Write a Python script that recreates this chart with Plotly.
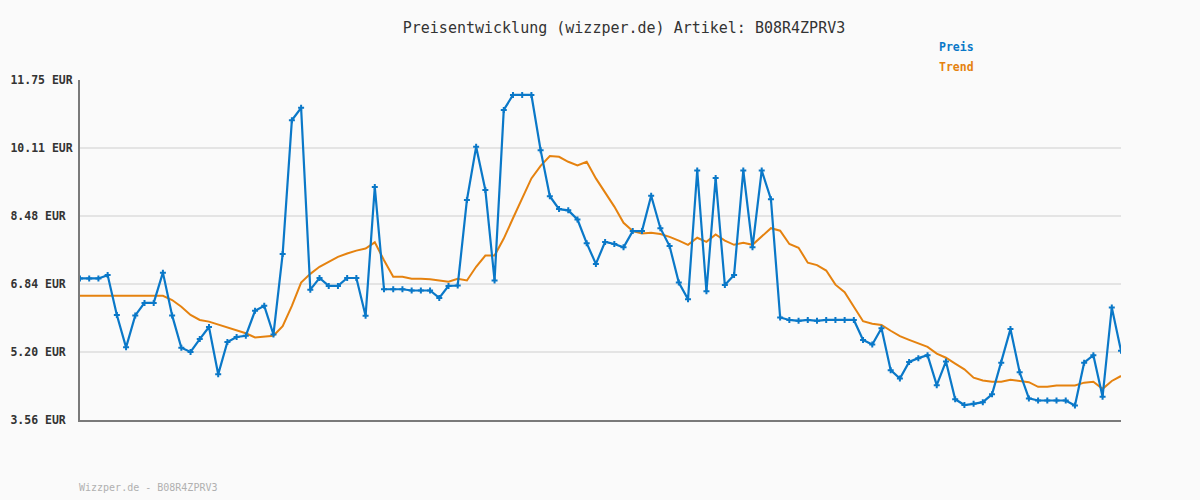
import plotly.graph_objects as go

title_text = "Preisentwicklung (wizzper.de) Artikel: B08R4ZPRV3"
footer_text = "Wizzper.de - B08R4ZPRV3"

preis = [
    6.97, 6.97, 6.97, 7.05, 6.09, 5.31, 6.08, 6.38, 6.38, 7.11,
    6.08, 5.30, 5.20, 5.51, 5.80, 4.66, 5.44, 5.56, 5.59, 6.19,
    6.31, 5.62, 7.56, 10.78, 11.08, 6.70, 6.98, 6.79, 6.79, 6.98,
    6.98, 6.07, 9.17, 6.71, 6.71, 6.71, 6.68, 6.68, 6.68, 6.50,
    6.79, 6.80, 8.86, 10.14, 9.10, 6.92, 11.03, 11.39, 11.39, 11.39,
    10.06, 8.95, 8.64, 8.61, 8.39, 7.82, 7.32, 7.85, 7.80, 7.72,
    8.11, 8.11, 8.96, 8.18, 7.75, 6.87, 6.47, 9.57, 6.66, 9.39,
    6.81, 7.05, 9.57, 7.72, 9.57, 8.88, 6.03, 5.97, 5.95, 5.97,
    5.95, 5.97, 5.97, 5.97, 5.97, 5.49, 5.38, 5.77, 4.76, 4.56,
    4.96, 5.05, 5.12, 4.40, 4.97, 4.06, 3.92, 3.95, 3.99, 4.18,
    4.94, 5.75, 4.71, 4.08, 4.03, 4.03, 4.03, 4.03, 3.91, 4.94,
    5.12, 4.12, 6.27, 5.23,
]

trend = [
    6.55, 6.55, 6.55, 6.55, 6.55, 6.55, 6.55, 6.55, 6.55, 6.55,
    6.45, 6.29, 6.09, 5.97, 5.93, 5.86, 5.79, 5.72, 5.65, 5.55,
    5.57, 5.59, 5.82, 6.31, 6.87, 7.08, 7.25, 7.37, 7.49, 7.57,
    7.64, 7.69, 7.84, 7.41, 7.01, 7.01, 6.96, 6.96, 6.95, 6.92,
    6.89, 6.96, 6.92, 7.25, 7.52, 7.52, 7.93, 8.42, 8.88, 9.38,
    9.68, 9.92, 9.90, 9.78, 9.69, 9.78, 9.38, 9.05, 8.70, 8.31,
    8.11, 8.05, 8.07, 8.04, 7.97, 7.88, 7.78, 7.95, 7.85, 8.03,
    7.88, 7.78, 7.83, 7.78, 7.97, 8.18, 8.12, 7.80, 7.71, 7.35,
    7.29, 7.16, 6.82, 6.64, 6.29, 5.94, 5.88, 5.85, 5.71, 5.58,
    5.49, 5.40, 5.32, 5.16, 5.06, 4.92, 4.78, 4.58, 4.51, 4.48,
    4.48, 4.53, 4.50, 4.47, 4.36, 4.36, 4.39, 4.39, 4.39, 4.46,
    4.48, 4.31, 4.50, 4.62,
]

y_ticks = [3.56, 5.20, 6.84, 8.48, 10.11, 11.75]
y_ticklabels = ["%.2f EUR" % v for v in y_ticks]
max_len = max(len(t) for t in y_ticklabels)
y_ticklabels_padded = [t + "\u00a0" * (max_len - len(t)) for t in y_ticklabels]

x = list(range(len(preis)))

BLUE = "#0A78C8"
ORANGE = "#E5820F"
MONO = "DejaVu Sans Mono"

fig = go.Figure()
fig.add_trace(go.Scatter(
    x=x, y=trend, mode="lines", name="Trend",
    line=dict(color=ORANGE, width=2),
    hoverinfo="skip",
))
fig.add_trace(go.Scatter(
    x=x, y=preis, mode="lines+markers", name="Preis",
    line=dict(color=BLUE, width=2.2),
    marker=dict(symbol="cross", size=5, color=BLUE),
))

fig.update_layout(
    width=1200, height=500,
    margin=dict(l=80, r=79, t=80, b=80),
    paper_bgcolor="#FAFAFA", plot_bgcolor="#FAFAFA",
    showlegend=False,
    title=dict(text=title_text, x=(624 - 80) / 1041, xref="paper", xanchor="center",
               y=1 - 28 / 500, yanchor="middle",
               font=dict(family=MONO, size=15, color="#333333")),
    xaxis=dict(range=[0, len(preis) - 1], showgrid=False, zeroline=False,
               showticklabels=False, ticks="", showline=True,
               linecolor="#7A7A7A", linewidth=2, automargin=False),
    yaxis=dict(range=[y_ticks[0], y_ticks[-1]], tickvals=y_ticks,
               ticktext=y_ticklabels_padded, showgrid=True,
               gridcolor="#E4E4E4", gridwidth=2, zeroline=False,
               showline=True, linecolor="#7A7A7A", linewidth=2,
               ticks="", ticklabelstandoff=3, automargin=False,
               tickfont=dict(family=MONO, size=11.5, color="#333333", weight="bold")),
)

fig.add_annotation(text="Preis", xref="paper", yref="paper",
                   x=(939 - 80) / 1041, y=1 + (80 - 47) / 340,
                   xanchor="left", yanchor="middle", showarrow=False, xshift=-2,
                   font=dict(family=MONO, size=11.5, color=BLUE, weight="bold"))
fig.add_annotation(text="Trend", xref="paper", yref="paper",
                   x=(939 - 80) / 1041, y=1 + (80 - 67) / 340,
                   xanchor="left", yanchor="middle", showarrow=False, xshift=-2,
                   font=dict(family=MONO, size=11.5, color=ORANGE, weight="bold"))
fig.add_annotation(text=footer_text, xref="paper", yref="paper",
                   x=0, y=-(487 - 420) / 340,
                   xanchor="left", yanchor="middle", showarrow=False, xshift=-3,
                   font=dict(family=MONO, size=10, color="#B0B0B0"))

fig.write_html(
    "out.html",
    config={"displayModeBar": False},
    post_script="document.body.style.margin='0';document.body.style.overflow='hidden';",
)
